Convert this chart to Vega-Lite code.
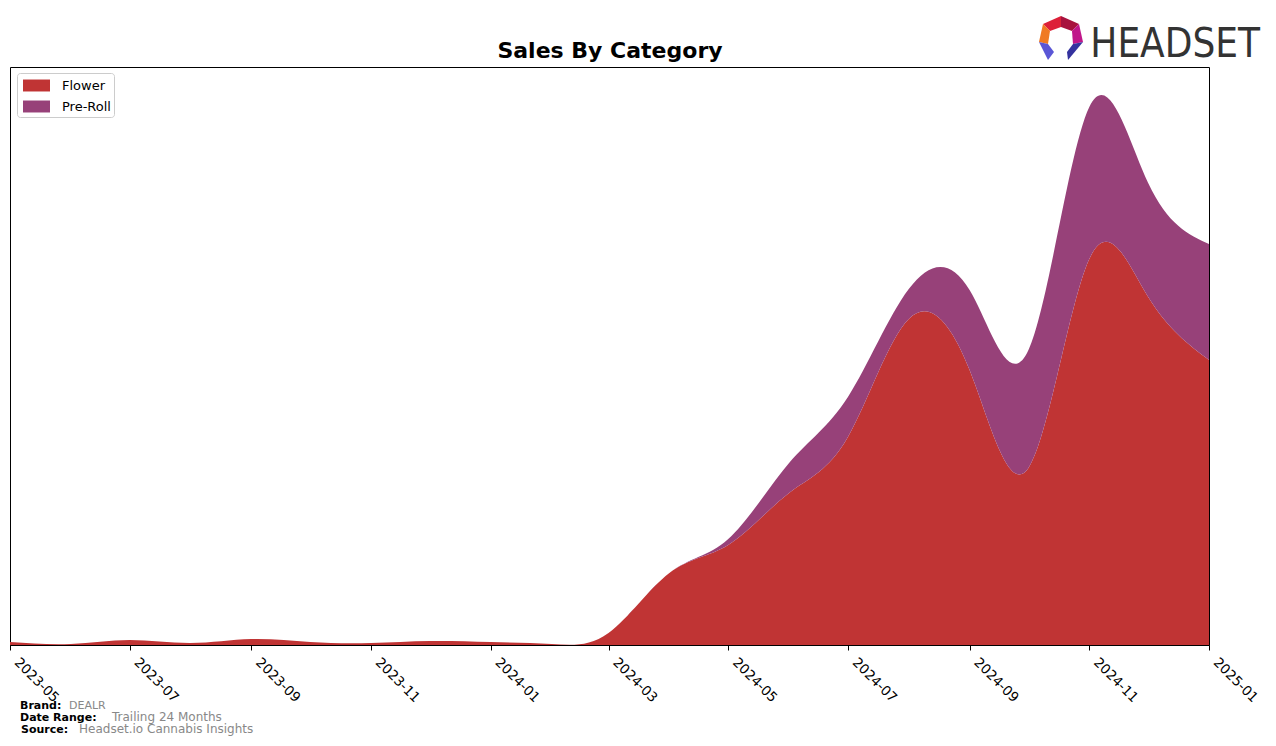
{
  "$schema": "https://vega.github.io/schema/vega-lite/v6.json",
  "width": 1199,
  "height": 578,
  "autosize": "none",
  "padding": {"left": 10, "top": 67, "right": 67, "bottom": 101},
  "background": "white",
  "config": {"view": {"stroke": "black", "strokeWidth": 1}, "font": "DejaVu Sans"},
  "layer": [
    {
      "data": {"values": [
        {"date": "2023-05-01", "category": "Flower", "sales": 300},
        {"date": "2023-06-01", "category": "Flower", "sales": 100},
        {"date": "2023-07-01", "category": "Flower", "sales": 500},
        {"date": "2023-08-01", "category": "Flower", "sales": 200},
        {"date": "2023-09-01", "category": "Flower", "sales": 600},
        {"date": "2023-10-01", "category": "Flower", "sales": 300},
        {"date": "2023-11-01", "category": "Flower", "sales": 200},
        {"date": "2023-12-01", "category": "Flower", "sales": 400},
        {"date": "2024-01-01", "category": "Flower", "sales": 300},
        {"date": "2024-02-01", "category": "Flower", "sales": 100},
        {"date": "2024-03-01", "category": "Flower", "sales": 1200},
        {"date": "2024-04-01", "category": "Flower", "sales": 7200},
        {"date": "2024-05-01", "category": "Flower", "sales": 10000},
        {"date": "2024-06-01", "category": "Flower", "sales": 15200},
        {"date": "2024-07-01", "category": "Flower", "sales": 20800},
        {"date": "2024-08-01", "category": "Flower", "sales": 32600},
        {"date": "2024-09-01", "category": "Flower", "sales": 27500},
        {"date": "2024-10-01", "category": "Flower", "sales": 17700},
        {"date": "2024-11-01", "category": "Flower", "sales": 38600},
        {"date": "2024-12-01", "category": "Flower", "sales": 34800},
        {"date": "2025-01-01", "category": "Flower", "sales": 28500},
        {"date": "2023-05-01", "category": "Pre-Roll", "sales": 0},
        {"date": "2023-06-01", "category": "Pre-Roll", "sales": 0},
        {"date": "2023-07-01", "category": "Pre-Roll", "sales": 0},
        {"date": "2023-08-01", "category": "Pre-Roll", "sales": 0},
        {"date": "2023-09-01", "category": "Pre-Roll", "sales": 0},
        {"date": "2023-10-01", "category": "Pre-Roll", "sales": 0},
        {"date": "2023-11-01", "category": "Pre-Roll", "sales": 0},
        {"date": "2023-12-01", "category": "Pre-Roll", "sales": 0},
        {"date": "2024-01-01", "category": "Pre-Roll", "sales": 0},
        {"date": "2024-02-01", "category": "Pre-Roll", "sales": 0},
        {"date": "2024-03-01", "category": "Pre-Roll", "sales": 0},
        {"date": "2024-04-01", "category": "Pre-Roll", "sales": 0},
        {"date": "2024-05-01", "category": "Pre-Roll", "sales": 600},
        {"date": "2024-06-01", "category": "Pre-Roll", "sales": 3000},
        {"date": "2024-07-01", "category": "Pre-Roll", "sales": 4000},
        {"date": "2024-08-01", "category": "Pre-Roll", "sales": 3000},
        {"date": "2024-09-01", "category": "Pre-Roll", "sales": 8000},
        {"date": "2024-10-01", "category": "Pre-Roll", "sales": 11800},
        {"date": "2024-11-01", "category": "Pre-Roll", "sales": 15200},
        {"date": "2024-12-01", "category": "Pre-Roll", "sales": 11400},
        {"date": "2025-01-01", "category": "Pre-Roll", "sales": 11600}
      ]},
      "mark": {"type": "area", "interpolate": "natural", "clip": true, "opacity": 1},
      "encoding": {
        "x": {
          "field": "date", "type": "temporal",
          "scale": {"type": "utc", "domain": [{"year": 2023, "month": 5, "date": 1, "utc": true}, {"year": 2025, "month": 1, "date": 1, "utc": true}], "nice": false},
          "axis": {"format": "%Y-%m", "tickCount": {"interval": "month", "step": 2}, "labelAngle": 45, "labelAlign": "left", "labelBaseline": "top", "labelFont": "DejaVu Sans", "labelFontSize": 13.5, "labelColor": "black", "tickColor": "black", "domainColor": "black", "tickSize": 5, "grid": false, "title": null, "labelPadding": 5, "labelOffset": 11, "labelOverlap": false, "labelFlush": false, "labelBound": false}
        },
        "y": {"field": "sales", "type": "quantitative", "stack": "zero", "scale": {"domain": [0, 57800], "nice": false, "zero": true}, "axis": null},
        "color": {
          "field": "category", "type": "nominal",
          "scale": {"domain": ["Flower", "Pre-Roll"], "range": ["#c03434", "#974179"]},
          "legend": {"title": null, "orient": "none", "legendX": 7, "legendY": 6, "symbolType": "M-0.684,-0.63H2.158V0.63H-0.684Z", "symbolSize": 361, "symbolStrokeWidth": 0, "symbolOpacity": 1, "labelFont": "DejaVu Sans", "labelFontSize": 13, "labelColor": "black", "labelOffset": 23, "rowPadding": 4, "padding": 3, "fillColor": "white", "strokeColor": "#cccccc", "cornerRadius": 3}
        },
        "order": {"field": "category", "sort": "ascending"}
      }
    },
    {"data": {"values": [{}]}, "mark": {"type": "text", "text": "Sales By Category", "x": 600, "y": -9, "align": "center", "baseline": "alphabetic", "font": "DejaVu Sans", "fontWeight": "bold", "fontSize": 22, "color": "black"}, "encoding": {}},
    {"data": {"values": [{}]}, "mark": {"type": "text", "text": "Brand:", "x": 10, "y": 642, "align": "left", "baseline": "alphabetic", "font": "DejaVu Sans", "fontWeight": "bold", "fontSize": 11, "color": "black"}, "encoding": {}},
    {"data": {"values": [{}]}, "mark": {"type": "text", "text": "DEALR", "x": 59, "y": 642, "align": "left", "baseline": "alphabetic", "font": "DejaVu Sans", "fontSize": 11, "color": "#888888"}, "encoding": {}},
    {"data": {"values": [{}]}, "mark": {"type": "text", "text": "Date Range:", "x": 10, "y": 654, "align": "left", "baseline": "alphabetic", "font": "DejaVu Sans", "fontWeight": "bold", "fontSize": 11, "color": "black"}, "encoding": {}},
    {"data": {"values": [{}]}, "mark": {"type": "text", "text": "Trailing 24 Months", "x": 102, "y": 654, "align": "left", "baseline": "alphabetic", "font": "DejaVu Sans", "fontSize": 12, "color": "#888888"}, "encoding": {}},
    {"data": {"values": [{}]}, "mark": {"type": "text", "text": "Source:", "x": 11, "y": 666, "align": "left", "baseline": "alphabetic", "font": "DejaVu Sans", "fontWeight": "bold", "fontSize": 11, "color": "black"}, "encoding": {}},
    {"data": {"values": [{}]}, "mark": {"type": "text", "text": "Headset.io Cannabis Insights", "x": 69, "y": 666, "align": "left", "baseline": "alphabetic", "font": "DejaVu Sans", "fontSize": 12, "color": "#888888"}, "encoding": {}},
    {"data": {"values": [{}]}, "mark": {"type": "text", "text": "HEADSET", "x": 1250, "y": -10, "align": "right", "baseline": "alphabetic", "font": "DejaVu Sans Condensed, Roboto", "fontSize": 40, "color": "#333333"}, "encoding": {}},
    {"data": {"values": [{}]}, "mark": {"type": "point", "shape": "M-0.8,-0.622L0,-0.978L0,-0.489L-0.489,-0.311Z", "size": 2025, "x": 1051, "y": -29, "filled": true, "fill": "#dd2038", "strokeWidth": 0, "opacity": 1}, "encoding": {}},
    {"data": {"values": [{}]}, "mark": {"type": "point", "shape": "M0,-0.978L0.8,-0.622L0.489,-0.311L0,-0.489Z", "size": 2025, "x": 1051, "y": -29, "filled": true, "fill": "#a8123e", "strokeWidth": 0, "opacity": 1}, "encoding": {}},
    {"data": {"values": [{}]}, "mark": {"type": "point", "shape": "M-0.8,-0.622L-0.489,-0.311L-0.578,0.267L-0.978,0.178Z", "size": 2025, "x": 1051, "y": -29, "filled": true, "fill": "#f07a22", "strokeWidth": 0, "opacity": 1}, "encoding": {}},
    {"data": {"values": [{}]}, "mark": {"type": "point", "shape": "M0.8,-0.622L0.978,0.178L0.533,0.267L0.489,-0.311Z", "size": 2025, "x": 1051, "y": -29, "filled": true, "fill": "#c0168a", "strokeWidth": 0, "opacity": 1}, "encoding": {}},
    {"data": {"values": [{}]}, "mark": {"type": "point", "shape": "M-0.978,0.178L-0.578,0.267L-0.311,0.622L-0.578,0.978Z", "size": 2025, "x": 1051, "y": -29, "filled": true, "fill": "#5a56d6", "strokeWidth": 0, "opacity": 1}, "encoding": {}},
    {"data": {"values": [{}]}, "mark": {"type": "point", "shape": "M0.978,0.178L0.533,0.267L0.267,0.622L0.311,0.978Z", "size": 2025, "x": 1051, "y": -29, "filled": true, "fill": "#34329e", "strokeWidth": 0, "opacity": 1}, "encoding": {}}
  ]
}
